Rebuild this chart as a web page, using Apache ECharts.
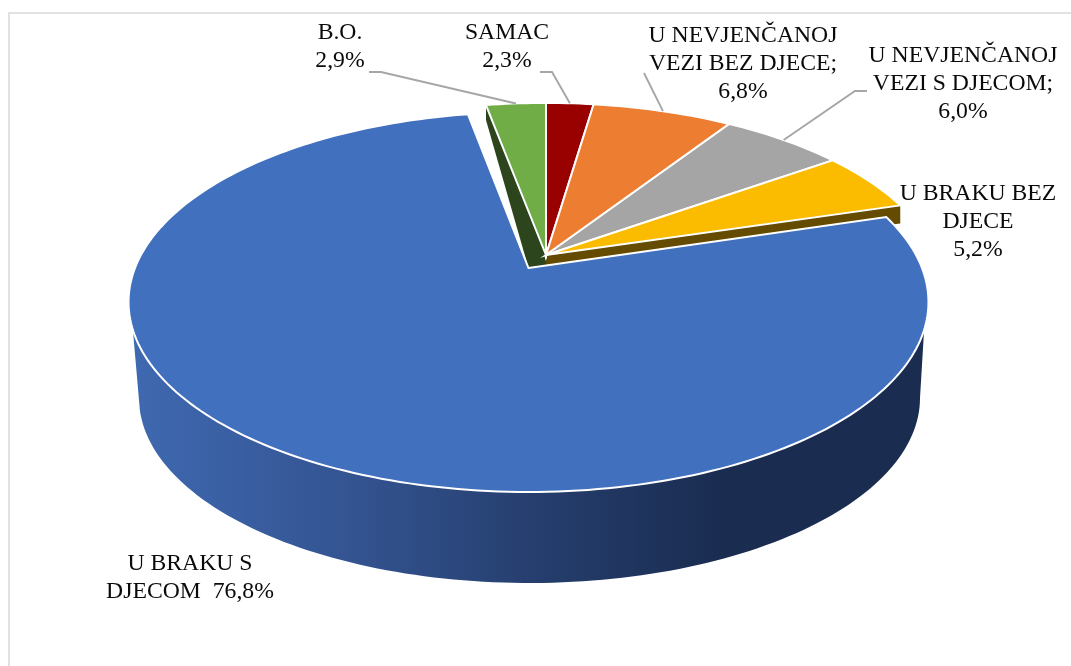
<!DOCTYPE html>
<html>
<head>
<meta charset="utf-8">
<style>html,body{margin:0;padding:0;background:#fff}#c{width:1071px;height:666px}</style>
<script src="https://cdn.jsdelivr.net/npm/echarts@6/dist/echarts.min.js"></script>
</head>
<body>
<div id="c"></div>
<script>
const categories = ['SAMAC', 'U NEVJENČANOJ VEZI BEZ DJECE', 'U NEVJENČANOJ VEZI S DJECOM', 'U BRAKU BEZ DJECE', 'U BRAKU S DJECOM', 'B.O.'];
const values = [2.3, 6.8, 6.0, 5.2, 76.8, 2.9];
const colors = ['#990000', '#ed7d31', '#a5a5a5', '#fbbc00', '#4170bf', '#70ad47'];
const labelLines = [
  'SAMAC', 'U NEVJENČANOJ\nVEZI BEZ DJECE;', 'U NEVJENČANOJ\nVEZI S DJECOM;',
  'U BRAKU BEZ\nDJECE', 'U BRAKU S\nDJECOM ', 'B.O.'
];

// layout (not data)
const FONT = '23.7px "Liberation Serif", "Times New Roman", serif';
const LINE_H = 28;
const labelPos = [[507, 46.5], [743, 63.5], [963, 84], [978, 222], [190, 578], [340, 46.5]];
const leaderElbow = [[[540, 72], [552, 72]], [[644, 73]], [[867, 91], [855, 91]], null, null, [[369, 72], [381, 72]]];
const MAIN = 4;
const A = 393.5, Bk = 183.9, K = 0.179;
const apexMain = [528.5, 268], apexOut = [546, 255];

function rim(pct, apex, sx, sy, r) {
  const t = pct / 100 * 2 * Math.PI;
  const u = Math.sin(t) * r, v = Math.cos(t) * r;
  const w = 1 + K * v;
  return [apex[0] + sx * A * u / w, apex[1] - sy * Bk * v / w];
}
function shade(hex, f) {
  const n = parseInt(hex.slice(1), 16);
  const c = [n >> 16 & 255, n >> 8 & 255, n & 255].map(x => Math.round(x * f));
  return 'rgb(' + c.join(',') + ')';
}
function ell(cx, cy, rx, ry, from, to, n) {
  const p = [];
  for (let i = 0; i <= n; i++) {
    const a = (from + (to - from) * i / n) * Math.PI / 180;
    p.push([cx + rx * Math.cos(a), cy + ry * Math.sin(a)]);
  }
  return p;
}
let acc = 0;
const seriesData = values.map((v, i) => { const d = [acc, acc + v, v, i]; acc += v; return d; });

function renderItem(params, api) {
  const start = api.value(0), end = api.value(1), val = api.value(2), i = api.value(3);
  const isMain = i === MAIN;
  const apex = isMain ? apexMain : apexOut;
  const sx = isMain ? 1 : 0.99, sy = isMain ? 1 : 0.975;
  const pts = [apex.slice()];
  const n = Math.max(6, Math.round((end - start) * 3));
  for (let k = 0; k <= n; k++) pts.push(rim(start + (end - start) * k / n, apex, sx, sy, 1));
  const children = [];
  // outer wall of the main slice
  if (isMain) {
    const topArc = ell(528.5, 302, 400, 190, 8.5, 171.5, 120);
    const botArc = ell(529.5, 398, 390.5, 185, 176, 0, 120);
    children.push({
      type: 'polygon', z2: 3, shape: { points: topArc.concat(botArc) },
      style: {
        fill: {
          type: 'linear', global: true, x: 130, y: 0, x2: 928, y2: 0,
          colorStops: [
            { offset: 0, color: '#3f69b1' }, { offset: 0.27, color: '#345492' },
            { offset: 0.5, color: '#263f6f' }, { offset: 0.74, color: '#1a2c50' },
            { offset: 1, color: '#1a2c50' }
          ]
        }
      }
    });
  }
  // cut faces of the exploded slices, where they show
  if (i === 3) {
    const o = rim(end, apex, sx, sy, 1);
    children.push({
      type: 'polygon', z2: 1,
      shape: { points: [apex, o, [o[0], o[1] + 18], [apex[0], apex[1] + 12]] },
      style: { fill: shade(colors[i], 0.4) }
    });
  }
  if (i === 5) {
    const o = rim(start, apex, sx, sy, 1);
    const tip = apexMain;
    children.push({
      type: 'polygon', z2: 1,
      shape: { points: [o, apex, [apex[0], apex[1] + 12], tip, [o[0], o[1] + 15]] },
      style: { fill: shade(colors[i], 0.4) }
    });
  }
  children.push({
    type: 'polygon', z2: isMain ? 4 : 2, shape: { points: pts },
    style: { fill: colors[i], stroke: '#fff', lineWidth: 2, lineJoin: 'miter' }
  });
  // label
  const valTxt = val.toFixed(1).replace('.', ',') + '%';
  const txt = i === MAIN ? labelLines[i] + ' ' + valTxt : labelLines[i] + '\n' + valTxt;
  children.push({
    type: 'text', z2: 6, x: labelPos[i][0], y: labelPos[i][1],
    style: { text: txt, font: FONT, fill: '#0a0a0a', align: 'center', verticalAlign: 'middle', lineHeight: LINE_H }
  });
  // leader
  if (leaderElbow[i]) {
    const e = rim((start + end) / 2, apex, sx, sy, 1);
    children.push({
      type: 'polyline', z2: 5, shape: { points: leaderElbow[i].concat([e]) },
      style: { fill: 'none', stroke: '#a6a6a6', lineWidth: 1.9 }
    });
  }
  return { type: 'group', children: children };
}

const chart = echarts.init(document.getElementById('c'), null, { renderer: 'canvas' });
chart.setOption({
  animation: false,
  backgroundColor: '#fff',
  graphic: [{
    type: 'rect', z: 0, silent: true,
    shape: { x: 9, y: 13, width: 1100, height: 700 },
    style: { fill: 'none', stroke: '#d9d9d9', lineWidth: 1.5 }
  }],
  series: [{
    type: 'custom',
    name: 'Bračni status',
    coordinateSystem: 'none',
    renderItem: renderItem,
    data: seriesData.map((d, i) => ({ name: categories[i], value: d })),
    encode: { value: 2 },
    silent: true,
    z: 2
  }]
});
</script>
</body>
</html>
